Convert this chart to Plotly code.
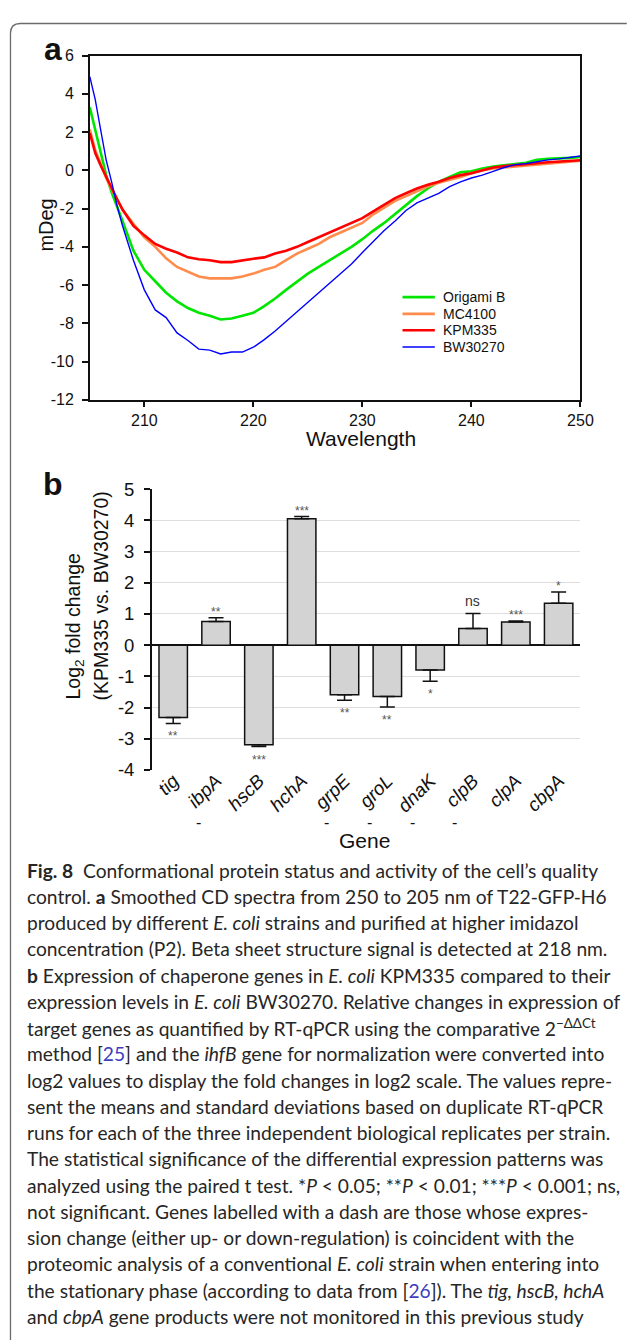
import plotly.graph_objects as go

W, H = 629, 1344
def px(x): return x / W
def py(y): return 1 - y / H

# ---------------- Panel a data (CD spectra) ----------------
wavelength = [205, 205.5, 206, 206.5, 207, 207.5, 208, 209, 210, 211, 212, 213, 214, 215,
              216, 217, 218, 219, 220, 221, 222, 223, 224, 225, 226, 227, 228, 229, 230,
              231, 232, 233, 234, 235, 236, 237, 238, 239, 240, 241, 242, 243, 244, 245,
              246, 247, 248, 249, 250]
origami_b = [3.3, 2.1, 0.85, -0.25, -1.15, -1.95, -2.65, -4.2, -5.2, -5.8, -6.4, -6.85, -7.2, -7.45,
             -7.6, -7.8, -7.75, -7.6, -7.45, -7.1, -6.7, -6.25, -5.8, -5.4, -5.05, -4.7, -4.35, -4.0,
             -3.6, -3.15, -2.75, -2.3, -1.8, -1.35, -0.95, -0.6, -0.35, -0.1, -0.05, 0.1, 0.2, 0.28,
             0.33, 0.4, 0.55, 0.6, 0.62, 0.65, 0.7]
mc4100 = [2.15, 1.05, 0.35, -0.4, -1.0, -1.55, -2.05, -2.8, -3.5, -4.0, -4.6, -5.05, -5.3, -5.55,
          -5.65, -5.65, -5.65, -5.55, -5.4, -5.2, -5.05, -4.7, -4.35, -4.1, -3.85, -3.5, -3.25, -3.0,
          -2.75, -2.3, -1.95, -1.6, -1.35, -1.1, -0.85, -0.65, -0.5, -0.35, -0.15, 0.0, 0.1, 0.15,
          0.2, 0.28, 0.33, 0.38, 0.42, 0.45, 0.5]
kpm335 = [1.95, 0.9, 0.25, -0.35, -0.9, -1.5, -2.05, -2.9, -3.4, -3.85, -4.1, -4.3, -4.55, -4.65,
          -4.7, -4.8, -4.8, -4.7, -4.62, -4.55, -4.35, -4.2, -4.0, -3.75, -3.5, -3.25, -3.0, -2.75,
          -2.5, -2.15, -1.8, -1.45, -1.2, -0.95, -0.75, -0.6, -0.4, -0.25, -0.15, 0.0, 0.15, 0.22,
          0.28, 0.33, 0.37, 0.42, 0.45, 0.5, 0.53]
bw30270 = [4.9, 3.7, 2.1, 0.55, -0.6, -1.85, -2.9, -4.7, -6.25, -7.3, -7.7, -8.5, -8.9, -9.35,
           -9.4, -9.6, -9.5, -9.5, -9.25, -8.85, -8.4, -7.9, -7.4, -6.95, -6.4, -5.9, -5.4, -4.9,
           -4.3, -3.7, -3.15, -2.65, -2.1, -1.7, -1.45, -1.2, -0.85, -0.6, -0.4, -0.25, -0.05, 0.15,
           0.3, 0.35, 0.45, 0.55, 0.6, 0.67, 0.75]
strain_names = ["Origami B", "MC4100", "KPM335", "BW30270"]
strain_colors = ["#00e600", "#ff8c4c", "#ff0000", "#0000ff"]
strain_widths = [2.6, 2.6, 2.6, 1.4]
a_yticks = [6, 4, 2, 0, -2, -4, -6, -8, -10, -12]
a_xticks = [210, 220, 230, 240, 250]

# ---------------- Panel b data (qPCR) ----------------
genes = ["tig", "ibpA", "hscB", "hchA", "grpE", "groL", "dnaK", "clpB", "clpA", "cbpA"]
log2fc = [-2.32, 0.76, -3.19, 4.05, -1.59, -1.65, -0.80, 0.53, 0.74, 1.34]
sd = [0.19, 0.12, 0.06, 0.07, 0.18, 0.33, 0.36, 0.48, 0.03, 0.36]
signif = ["**", "**", "***", "***", "**", "**", "*", "ns", "***", "*"]
dashed = [False, True, False, False, True, True, True, True, False, False]
b_yticks = [5, 4, 3, 2, 1, 0, -1, -2, -3, -4]

FONT = "Liberation Sans, Arial, sans-serif"
TXT = "#111111"

fig = go.Figure()
curves = [origami_b, mc4100, kpm335, bw30270]
for name, ys, col, lw in zip(strain_names, curves, strain_colors, strain_widths):
    fig.add_trace(go.Scatter(x=wavelength, y=ys, mode="lines", name=name,
                             line=dict(color=col, width=lw), xaxis="x", yaxis="y",
                             showlegend=False))

err_plus = [s if v > 0 else 0 for v, s in zip(log2fc, sd)]
err_minus = [s if v < 0 else 0 for v, s in zip(log2fc, sd)]
fig.add_trace(go.Bar(x=genes, y=log2fc, xaxis="x2", yaxis="y2", showlegend=False,
                     marker=dict(color="#d3d3d3", line=dict(color="#111111", width=1.5)),
                     error_y=dict(type="data", symmetric=False, array=err_plus,
                                  arrayminus=err_minus, color="#111111", thickness=1.5,
                                  width=7.5)))

annotations = []
shapes = []

# manual legend for panel a
leg_y = [290.7, 307.7, 324.3, 341.3]
for name, col, lw, yy in zip(strain_names, strain_colors, strain_widths, leg_y):
    shapes.append(dict(type="line", xref="paper", yref="paper", x0=px(411), x1=px(444),
                       y0=py(yy), y1=py(yy), line=dict(color=col, width=lw)))
    annotations.append(dict(text=name, xref="paper", yref="paper", x=px(450.5), y=py(yy),
                            xanchor="left", yanchor="middle", showarrow=False,
                            font=dict(family=FONT, size=14, color=TXT)))

# panel labels & axis titles
titles = [
    dict(text="<b>a</b>", x=px(54), y=py(39), font=dict(family=FONT, size=32, color=TXT)),
    dict(text="<b>b</b>", x=px(54), y=py(481), font=dict(family=FONT, size=32, color=TXT)),
    dict(text="mDeg", x=px(47), y=py(218), textangle=-90, font=dict(family=FONT, size=20, color=TXT)),
    dict(text="Wavelength", x=px(369), y=py(434), font=dict(family=FONT, size=21, color=TXT)),
    dict(text="Gene", x=px(372), y=py(843), font=dict(family=FONT, size=21, color=TXT)),
]
for a in titles:
    a.update(xref="paper", yref="paper", xanchor="center", yanchor="middle", showarrow=False)
annotations += titles

annotations += [
    dict(text="Log<sub>2</sub> fold change", xref="paper", yref="paper", x=px(76), y=py(701),
         xanchor="center", yanchor="bottom", textangle=-90, showarrow=False,
         font=dict(family=FONT, size=19.5, color=TXT)),
    dict(text="(KPM335 vs. BW30270)", xref="paper", yref="paper", x=px(103), y=py(702),
         xanchor="center", yanchor="bottom", textangle=-90, showarrow=False,
         font=dict(family=FONT, size=19.5, color=TXT)),
]

# significance marks
for g, v, s, lab in zip(genes, log2fc, sd, signif):
    is_ns = lab == "ns"
    if v > 0:
        yv, ysh = v + s, (13 if is_ns else 6)
    else:
        yv, ysh = v - s, -13
    annotations.append(dict(text=lab, xref="x2", yref="y2", x=g, y=yv, yshift=ysh,
                            xanchor="center", yanchor="middle", showarrow=False,
                            font=dict(family=FONT, size=14 if is_ns else 12,
                                      color="#333333" if is_ns else "#555555")))
# dashes below selected gene labels
for g, d in zip(genes, dashed):
    if d:
        annotations.append(dict(text="-", xref="x2", yref="paper", x=g, y=py(824), xshift=-18,
                                xanchor="center", yanchor="middle", showarrow=False,
                                font=dict(family=FONT, size=16, color=TXT)))

# caption
BLUE = "#3d3dbd"
caption = [
    "<b>Fig. 8</b>  Conformational protein status and activity of the cell’s quality",
    "control. <b>a</b> Smoothed CD spectra from 250 to 205 nm of T22-GFP-H6",
    "produced by different <i>E. coli</i> strains and purified at higher imidazol",
    "concentration (P2). Beta sheet structure signal is detected at 218 nm.",
    "<b>b</b> Expression of chaperone genes in <i>E. coli</i> KPM335 compared to their",
    "expression levels in <i>E. coli</i> BW30270. Relative changes in expression of",
    "target genes as quantified by RT-qPCR using the comparative 2<sup>−ΔΔCt</sup>",
    "method [<span style='color:" + BLUE + "'>25</span>] and the <i>ihfB</i> gene for normalization were converted into",
    "log2 values to display the fold changes in log2 scale. The values repre-",
    "sent the means and standard deviations based on duplicate RT-qPCR",
    "runs for each of the three independent biological replicates per strain.",
    "The statistical significance of the differential expression patterns was",
    "analyzed using the paired t test. *<i>P</i> &lt; 0.05; **<i>P</i> &lt; 0.01; ***<i>P</i> &lt; 0.001; ns,",
    "not significant. Genes labelled with a dash are those whose expres-",
    "sion change (either up- or down-regulation) is coincident with the",
    "proteomic analysis of a conventional <i>E. coli</i> strain when entering into",
    "the stationary phase (according to data from [<span style='color:" + BLUE + "'>26</span>]). The <i>tig, hscB, hchA</i>",
    "and <i>cbpA</i> gene products were not monitored in this previous study",
]
for i, line in enumerate(caption):
    annotations.append(dict(text=line, xref="paper", yref="paper", x=px(26),
                            y=py(872.7 + 26.67 * i), xanchor="left", yanchor="middle",
                            showarrow=False, font=dict(family="Lato, sans-serif", size=19.2,
                                                       color="#262626")))

# rounded figure border (left/top visible)
r = 10
shapes.append(dict(type="path", xref="paper", yref="paper",
                   path=(f"M {px(640)},{py(12.7)} L {px(10.7 + r)},{py(12.7)} "
                         f"Q {px(10.7)},{py(12.7)} {px(10.7)},{py(12.7 + r)} "
                         f"L {px(10.7)},{py(1350)}"),
                   line=dict(color="#6b6b6b", width=1.3)))

axis_common = dict(showline=True, linecolor="#111111", linewidth=1.5,
                   ticks="outside", tickcolor="#111111", tickwidth=1.5,
                   tickfont=dict(family=FONT, size=16, color=TXT))

fig.update_layout(
    width=W, height=H, autosize=False,
    margin=dict(l=0, r=0, t=0, b=0),
    paper_bgcolor="white", plot_bgcolor="white",
    showlegend=False,
    bargap=0.336,
    xaxis=dict(domain=[px(91.7), px(592.7)], anchor="y", range=[205, 250],
               tickvals=a_xticks, ticktext=[str(v) for v in a_xticks], ticklen=5, mirror=True,
               showgrid=False, zeroline=False, ticklabelstandoff=0, **axis_common),
    yaxis=dict(domain=[py(395), py(45.3)], anchor="x", range=[-12, 6],
               tickvals=a_yticks, ticktext=[str(v) for v in a_yticks], ticklen=6, mirror=True,
               showgrid=False, zeroline=False, ticklabelstandoff=5, **axis_common),
    xaxis2=dict(domain=[px(155), px(592.3)], anchor="y2", range=[-0.5, 9.5],
                type="category", showline=False, ticks="", showgrid=False, zeroline=False,
                tickangle=-45, ticklabelstandoff=-5,
                tickfont=dict(family=FONT, size=19, color=TXT, style="italic")),
    yaxis2=dict(domain=[py(771), py(485.7)], anchor="x2", range=[-4, 5],
                tickvals=b_yticks, ticktext=[str(v) for v in b_yticks],
                showline=True, linecolor="#111111", linewidth=1.5,
                ticks="outside", ticklen=6, tickcolor="#111111", tickwidth=1.5,
                showgrid=True, gridcolor="#dedede", gridwidth=1,
                zeroline=True, zerolinecolor="#111111", zerolinewidth=1.8,
                ticklabelstandoff=6,
                tickfont=dict(family=FONT, size=18.5, color=TXT)),
    annotations=annotations,
    shapes=shapes,
)

fig.write_html("out.html", config={"displayModeBar": False},
               post_script="document.body.style.margin='0px';document.body.style.overflow='hidden';")
